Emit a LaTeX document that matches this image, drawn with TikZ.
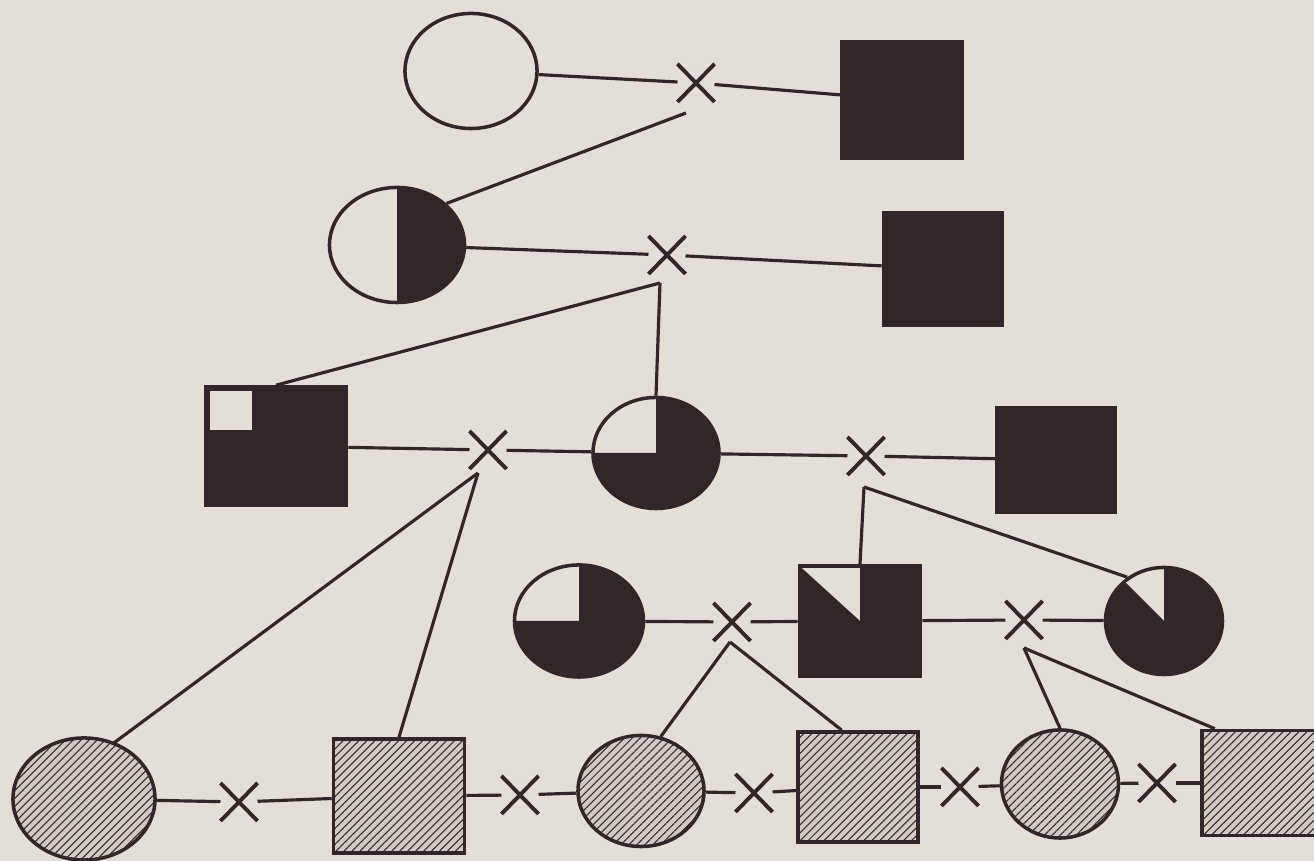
\documentclass[tikz,border=0pt]{standalone}
\usetikzlibrary{shapes.geometric,shapes.misc,patterns.meta}

\definecolor{ink}{RGB}{48,40,40}
\definecolor{paper}{RGB}{228,222,216}
\definecolor{hatchfill}{RGB}{208,202,196}

\tikzset{
  fem/.style={ellipse,draw=ink,line width=1pt,inner sep=0pt},
  mal/.style={rectangle,draw=ink,line width=1pt,inner sep=0pt},
  full/.style={fill=ink},
  halfright/.style={path picture={\fill[ink] (path picture bounding box.north) rectangle (path picture bounding box.south east);}},
  quartwhite/.style={path picture={\fill[ink] (path picture bounding box.center) -- (path picture bounding box.north) -- (path picture bounding box.north east) -- (path picture bounding box.south east) -- (path picture bounding box.south west) -- (path picture bounding box.west) -- cycle;}},
  cornerwhite/.style={fill=ink,path picture={\fill[paper] ([shift={(.045cm,-.045cm)}]path picture bounding box.north west) rectangle ++(.42cm,-.39cm);}},
  triwhite/.style={path picture={\fill[ink] (path picture bounding box.north west) -- (path picture bounding box.center) -- (path picture bounding box.north) -- (path picture bounding box.north east) -- (path picture bounding box.south east) -- (path picture bounding box.south west) -- cycle;}},
  wedgewhite/.style={path picture={\fill[ink] (path picture bounding box.center) -- ([shift={(135:1.5cm)}]path picture bounding box.center) -- ([shift={(180:1.5cm)}]path picture bounding box.center) -- ([shift={(270:1.5cm)}]path picture bounding box.center) -- ([shift={(0:1.5cm)}]path picture bounding box.center) -- ([shift={(90:1.5cm)}]path picture bounding box.center) -- cycle;}},
  hatch/.style={preaction={fill=hatchfill},pattern={Lines[angle=45,distance=1.6pt,line width=.3pt]},pattern color=ink},
  cross/.style={cross out,draw=ink,line width=1.1pt,minimum width=.27cm,minimum height=.28cm,inner sep=0pt,outer sep=.05cm},
  link/.style={draw=ink,line width=.9pt}
}

\begin{document}
\begin{tikzpicture}[x=0.01cm,y=0.01cm]
\useasboundingbox (0,0) rectangle (1314,861);
\fill[paper] (0,0) rectangle (1314,861);

\node[fem,minimum width=1.32cm,minimum height=1.15cm] (f1) at (471,790) {};
\node[cross] (x1) at (696,778) {};
\node[mal,full,minimum width=1.20cm,minimum height=1.16cm] (m1) at (902,761) {};
\coordinate (d1) at (686,748);

\node[fem,halfright,minimum width=1.35cm,minimum height=1.15cm] (f2) at (397,616) {};
\node[cross] (x2) at (667,606) {};
\node[mal,full,minimum width=1.19cm,minimum height=1.12cm] (m2) at (943,592) {};
\coordinate (d2) at (660,578);

\node[mal,cornerwhite,minimum width=1.41cm,minimum height=1.18cm] (m3) at (276,415) {};
\node[cross] (x3) at (488,411) {};
\node[fem,quartwhite,minimum width=1.26cm,minimum height=1.11cm] (f3) at (656,408) {};
\node[cross] (x4) at (866,405) {};
\node[mal,full,minimum width=1.18cm,minimum height=1.05cm] (m4) at (1056,401) {};
\coordinate (d3) at (478,388);
\coordinate (d4) at (864,374);

\node[fem,quartwhite,minimum width=1.29cm,minimum height=1.12cm] (f4) at (579,240) {};
\node[cross] (x5) at (732,239) {};
\node[mal,triwhite,minimum width=1.21cm,minimum height=1.10cm] (m5) at (860,240) {};
\node[cross] (x6) at (1024,241) {};
\node[fem,wedgewhite,minimum width=1.17cm,minimum height=1.07cm] (f5) at (1164,240) {};
\coordinate (d5) at (730,219);
\coordinate (d6) at (1024,213);

\node[fem,hatch,minimum width=1.42cm,minimum height=1.22cm] (f6) at (84,62) {};
\node[cross] (x7) at (239,59) {};
\node[mal,hatch,minimum width=1.31cm,minimum height=1.14cm] (m6) at (399,65) {};
\node[cross] (x8) at (520,66) {};
\node[fem,hatch,minimum width=1.26cm,minimum height=1.11cm] (f7) at (641,70) {};
\node[cross] (x9) at (754,68) {};
\node[mal,hatch,minimum width=1.20cm,minimum height=1.10cm] (m7) at (858,74) {};
\node[cross] (x10) at (960,74) {};
\node[fem,hatch,minimum width=1.17cm,minimum height=1.08cm] (f8) at (1060,77) {};
\node[cross] (x11) at (1157,78) {};
\node[mal,hatch,minimum width=1.20cm,minimum height=1.05cm] (m8) at (1262,78) {};

\draw[link] (f1) -- (x1);
\draw[link] (x1) -- (m1);
\draw[link] (d1) -- (f2.40);
\draw[link] (f2) -- (x2);
\draw[link] (x2) -- (m2);
\draw[link] (d2) -- (m3.north);
\draw[link] (d2) -- (f3.north);
\draw[link] (m3) -- (x3);
\draw[link] (x3) -- (f3);
\draw[link] (f3) -- (x4);
\draw[link] (x4) -- (m4);
\draw[link] (d3) -- (f6.62);
\draw[link] (d3) -- (m6.north);
\draw[link] (d4) -- (m5.north);
\draw[link] (d4) -- (f5.130);
\draw[link] (f4) -- (x5);
\draw[link] (x5) -- (m5);
\draw[link] (m5) -- (x6);
\draw[link] (x6) -- (f5);
\draw[link] (d5) -- (f7.70);
\draw[link] (d5) -- (m7.106);
\draw[link] (d6) -- (f8.north);
\draw[link] (d6) -- (m8.131);
\draw[link] (f6) -- (x7);
\draw[link] (x7) -- (m6);
\draw[link] (m6) -- (x8);
\draw[link] (x8) -- (f7);
\draw[link] (f7) -- (x9);
\draw[link] (x9) -- (m7);
\draw[link] (m7) -- (x10);
\draw[link] (x10) -- (f8);
\draw[link] (f8) -- (x11);
\draw[link] (x11) -- (m8);
\end{tikzpicture}
\end{document}
